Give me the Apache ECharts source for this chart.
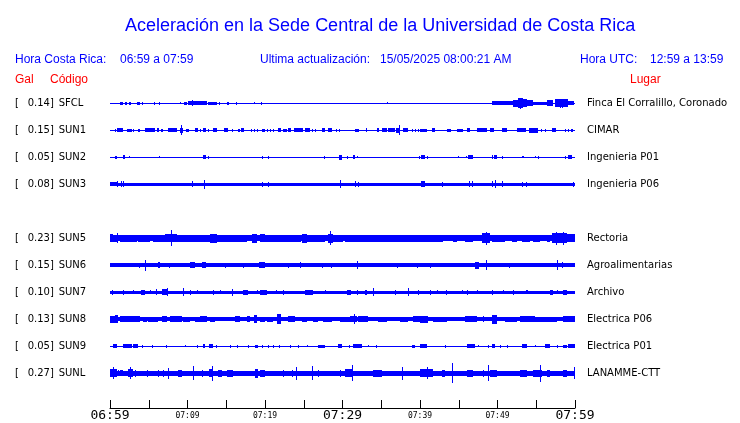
<!DOCTYPE html>
<html>
<head>
<meta charset="utf-8">
<script src="https://cdn.jsdelivr.net/npm/echarts@6/dist/echarts.min.js"></script>
<style>html,body{margin:0;padding:0;background:#fff}#c{width:740px;height:423px}</style>
</head>
<body>
<div id="c"></div>
<script>
// ---- Data ----
const stationCodes = ['SFCL','SUN1','SUN2','SUN3','SUN5','SUN6','SUN7','SUN8','SUN9','SUNL'];
const peakGal = ['0.14','0.15','0.05','0.08','0.23','0.15','0.10','0.13','0.05','0.27'];
const places = ['Finca El Corralillo, Coronado','CIMAR','Ingenieria P01','Ingenieria P06','Rectoria','Agroalimentarias','Archivo','Electrica P06','Electrica P01','LANAMME-CTT'];
const rowSlot = [0,1,2,3,5,6,7,8,9,10];          // trace slot (slot 4 empty)
const rowSpacing = 27;                            // amplitude units between traces
const baseAmp = [0.5,0.7,0.5,1.5,3,1.8,1.5,1.8,0.7,2.5]; // background noise half-amplitude
// time axis: minutes after 06:59 (hora Costa Rica)
const timeMin = 0, timeMax = 60, timeTickStep = 5;
const timeTickValues = [0,10,20,30,40,50,60];
const timeTickLabels = ['06:59','07:09','07:19','07:29','07:39','07:49','07:59'];
const majorTickLabels = ['06:59','07:29','07:59'];
// bursts: [start minute, end minute, half-amplitude]
const evSFCL = [[1.29,1.68,1.5],[1.94,2.19,1.5],[2.45,2.71,1.5],[3.48,3.87,1.5],[4.13,4.13,1.5],[5.68,5.68,1.5],[6.32,6.32,1.5],[9.03,9.03,1],[9.55,9.94,1.5],[10.06,12.52,2],[10.58,10.58,3],[12.65,13.81,1.5],[14.06,14.06,1.5],[15.1,15.35,1.5],[16.26,16.26,1.5],[18.58,18.58,1],[19.48,19.48,1.5],[35.74,35.74,1],[49.29,52.0,2],[52.0,52.6,3.5],[52.6,53.3,5],[52.9,52.9,5.5],[53.3,53.8,4],[53.8,54.58,3],[54.58,56.39,1.5],[56.39,57.16,3],[57.42,59.1,4],[58.0,58.0,4.5],[58.3,58.3,4.5],[59.1,59.87,2]];
const evSUN1 = [[0.65,0.65,1.5],[0.9,1.68,2],[2.19,2.84,1.5],[2.97,2.97,1.5],[3.61,3.87,1.5],[4.52,5.81,2],[6.06,6.32,2],[6.58,6.84,1.5],[7.48,8.65,2],[9.03,9.42,2.5],[9.16,9.16,5],[9.81,10.19,1.5],[10.97,11.35,2],[11.61,11.61,1.5],[12.0,12.39,2],[12.65,12.65,1.5],[13.29,13.81,2],[14.71,15.23,2],[15.74,15.74,1.5],[16.52,16.77,1.5],[16.9,17.29,2],[18.19,18.19,1.5],[18.58,18.58,1.5],[18.97,18.97,1.5],[19.61,20.0,1.5],[20.26,20.26,1.5],[20.65,20.65,1.5],[21.03,21.03,1.5],[21.68,22.06,2],[22.32,22.84,1.5],[22.97,23.35,2],[23.74,24.9,2],[25.16,25.81,2],[26.06,26.06,1.5],[26.45,26.45,1.5],[27.35,27.74,2],[28.13,28.65,2],[29.16,29.16,1.5],[29.55,29.55,1.5],[31.61,32.13,1.5],[33.03,33.16,2],[34.45,34.71,2],[35.1,35.74,2],[35.87,36.77,2],[36.9,37.42,2.5],[37.29,37.29,5],[37.81,38.45,2],[38.97,38.97,1.5],[39.35,39.35,1.5],[39.74,39.74,1.5],[40.0,40.9,1.5],[41.55,41.94,2],[43.48,44.0,1.5],[44.77,45.55,1.5],[46.06,46.45,2],[47.35,48.65,2],[49.03,49.55,2],[50.58,51.23,2],[52.52,53.68,2],[54.06,55.23,2.5],[55.61,55.61,1.5],[56.13,56.13,1.5],[57.03,57.55,2],[58.71,58.71,1.5],[59.1,59.1,1.5],[59.48,59.74,1.5]];
const evSUN2 = [[0.65,0.9,1.5],[1.68,1.94,2],[2.45,2.45,1.2],[6.32,6.32,1],[12.0,12.39,2],[12.65,12.65,1.5],[19.61,19.61,1.5],[20.39,20.39,1.5],[27.61,27.61,1.5],[29.55,29.94,2.5],[30.58,30.58,1.5],[31.35,31.61,2],[31.87,31.87,1],[39.87,39.87,1.5],[40.13,40.65,2],[40.9,40.9,1.5],[44.9,44.9,1],[45.94,45.94,1],[46.19,46.84,2],[49.29,49.42,2],[49.55,49.94,2],[50.58,50.58,1.5],[53.16,53.42,1.2],[54.84,54.84,1],[55.23,55.23,1.5],[58.71,58.71,1.5],[59.1,59.61,2]];
const evSUN3 = [[0,0.9,2],[0.9,0.9,3],[1.42,1.42,3],[1.68,1.68,3],[10.58,10.58,3],[12.13,12.13,4.5],[19.61,19.61,2.5],[20.39,20.39,2.5],[29.68,29.68,4],[31.61,31.61,3],[32.0,32.0,2.5],[40.13,40.65,3],[42.84,42.84,2.5],[46.32,46.32,3],[46.71,46.71,3],[49.29,49.29,3],[49.68,49.68,4],[50.58,50.58,3],[53.16,53.16,2.5],[53.68,53.68,2.5],[59.74,59.74,2.5]];
const evSUN5 = [[0,0.39,4],[0.39,1.03,3.5],[0.9,0.9,5],[1.29,3.48,3.3],[3.61,5.16,3.5],[5.55,7.1,3.3],[7.1,8.65,4],[7.87,7.87,8],[8.65,9.94,3.3],[9.94,11.61,3.5],[11.61,12.9,3.3],[12.9,13.81,4.5],[13.81,15.87,3.5],[15.87,17.68,3.5],[18.32,18.97,4.5],[19.35,20.0,4],[20.0,21.68,3.5],[21.68,22.45,3.3],[22.45,24.6,3.3],[24.77,25.4,4.5],[25.4,27.35,3.5],[27.35,27.74,3.5],[28.13,28.77,4.5],[28.39,28.39,7],[28.77,30.06,3.3],[30.32,30.97,3.5],[30.97,32.26,3.5],[32.26,33.55,3.3],[33.55,34.19,3.5],[34.19,36.13,3.5],[36.13,37.42,3.3],[37.42,38.32,3.5],[38.32,40.65,3.3],[40.65,41.68,3.3],[41.68,42.97,3.5],[44.26,44.77,3.5],[45.81,46.84,3.5],[48.0,49.03,5],[48.52,48.52,6.5],[49.29,50.97,3.3],[51.87,52.52,3.5],[53.16,54.19,3.5],[54.58,55.48,3.3],[56.39,56.77,3.5],[57.03,58.97,5],[57.6,57.6,6.5],[58.4,58.4,6.5],[58.97,60,4]];
const evSUN6 = [[3.74,3.74,2.5],[4.52,4.52,5.5],[6.19,6.45,3],[7.61,7.61,2.5],[10.32,10.97,3],[11.87,12.39,3],[14.84,14.84,2.5],[17.16,17.16,2.5],[19.23,19.74,3],[19.74,20.0,3],[22.97,22.97,2.5],[24.52,24.52,3],[27.35,27.35,2.5],[28.52,28.52,2.5],[31.87,31.87,4],[37.03,37.03,2.5],[39.61,39.61,2.5],[41.29,41.29,2.5],[42.58,42.58,2],[47.1,47.61,3.5],[48.52,48.52,5],[51.48,51.48,2.5],[57.68,57.68,5],[58.32,58.32,3]];
const evSUN7 = [[0.26,0.26,2.5],[1.68,1.68,2.5],[2.97,2.97,2],[4.0,4.52,2.5],[5.16,5.16,2],[5.94,5.94,3],[6.71,7.48,3],[7.35,7.35,4],[9.42,9.42,4],[10.32,10.32,2.5],[11.23,11.23,2],[13.29,13.29,2.5],[14.19,14.19,2],[15.74,15.74,3.5],[17.16,17.81,2.5],[18.97,18.97,2],[19.35,20.26,2.5],[21.42,21.42,2],[22.32,22.32,2.5],[25.16,26.19,2.5],[27.74,27.74,2],[30.58,31.1,2.5],[31.87,31.87,2.5],[32.9,33.16,2.5],[33.94,33.94,4],[36.77,36.77,2.5],[38.45,38.45,4],[39.74,39.74,2.5],[41.29,41.29,2.5],[42.19,42.19,2],[43.35,43.35,2.5],[45.42,45.42,2],[46.06,46.06,2.5],[47.35,47.35,2],[49.29,49.29,2.5],[50.71,50.71,2],[52.0,52.0,2.5],[53.68,53.94,2],[56.77,57.16,2.5],[57.68,57.68,2],[58.45,58.97,2.5]];
const evSUN8 = [[0,0.65,3.5],[0.65,1.03,4],[1.29,3.87,2.8],[4.26,4.77,2.5],[4.9,6.19,2.5],[6.71,7.35,3],[7.74,9.29,2.8],[9.42,10.32,2.5],[10.97,11.61,2.5],[11.61,12.52,2.8],[12.9,13.55,2.5],[16.13,16.77,3],[17.68,18.06,3],[18.58,18.97,4],[19.35,20.0,2.5],[20.26,21.03,2.5],[21.55,22.06,5],[22.97,23.87,3],[24.77,25.42,2.5],[26.19,26.84,2.5],[27.48,28.65,2.5],[29.68,30.97,2.5],[30.97,31.87,3],[31.48,31.48,5],[32.0,33.29,2.8],[34.58,35.74,2.5],[37.42,38.45,2.5],[39.1,40.65,2.8],[40.0,41.03,3.5],[41.68,43.48,2.5],[45.81,47.35,2.8],[48.13,48.13,3],[49.29,49.94,4.5],[50.97,52.52,2.5],[52.9,54.84,2.8],[54.84,57.68,2.5],[58.45,60,3]];
const evSUN9 = [[0.39,0.9,2],[1.68,2.84,2],[2.97,3.61,2],[4.13,4.13,1.5],[5.42,5.42,1.5],[7.23,7.23,1.5],[9.68,9.68,1.2],[11.23,11.23,1.5],[12.0,12.26,2],[12.77,13.29,2],[13.68,13.68,1.5],[15.48,15.48,1.5],[16.39,16.39,1.5],[17.81,17.81,1.5],[18.71,19.1,1.5],[19.61,19.74,1.5],[20.39,20.39,1.5],[21.03,21.03,1.5],[21.81,21.81,1.5],[23.23,23.23,1.5],[24.26,24.26,1.5],[25.42,25.42,1.2],[26.84,27.74,1.5],[29.42,29.94,2],[30.84,30.84,1.5],[31.35,32.52,2],[33.29,33.29,1],[34.32,34.32,1.5],[38.97,39.35,1.5],[40.0,40.9,2],[43.23,43.23,1.5],[46.06,47.1,2],[47.48,47.48,1],[48.77,48.77,1.5],[49.29,49.68,2],[50.32,50.32,1.5],[51.23,51.23,1.5],[53.16,53.81,2],[54.84,54.84,1.2],[56.13,56.77,2],[57.68,57.68,1.5],[58.45,58.97,1.5],[59.1,60,2]];
const evSUNL = [[0,0.9,4],[0.39,0.39,6],[1.03,1.03,3],[1.29,1.68,3],[2.32,2.97,4],[2.58,2.58,6],[3.23,3.23,3.5],[4.77,4.77,3.5],[6.19,6.19,3.5],[6.84,6.84,3.5],[7.48,7.48,5.5],[8.77,9.29,3.3],[10.71,10.71,7],[11.87,11.87,3.5],[12.77,13.29,4],[13.16,13.16,7.5],[13.94,14.45,3.3],[15.1,15.87,3.3],[18.71,19.1,4.5],[19.35,20.0,3.3],[22.32,22.32,3.5],[23.48,23.48,3.5],[24.0,24.0,6.5],[26.06,26.06,7],[26.84,26.84,3.5],[29.68,29.68,3.5],[30.32,31.35,4],[31.23,31.23,8],[33.94,35.1,3.3],[37.68,37.68,6.5],[40.0,41.68,4],[40.9,40.9,6],[42.84,43.23,3.5],[44.13,44.13,10],[46.06,46.84,3.3],[48.13,48.13,3.5],[48.77,48.77,8],[49.03,49.94,3.5],[52.9,53.81,3.3],[54.58,55.74,3.5],[55.48,55.48,8.5],[56.39,56.77,3.3],[58.45,58.97,3.3],[59.87,59.87,6]];
const eventLists = [evSFCL,evSUN1,evSUN2,evSUN3,evSUN5,evSUN6,evSUN7,evSUN8,evSUN9,evSUNL];

// ---- Build series data ----
const rowValues = rowSlot.map(s => s * rowSpacing);
const traceData = [];
stationCodes.forEach((code, i) => {
  const row = rowValues[i];
  traceData.push([timeMin, timeMax, row, baseAmp[i]]);
  eventLists[i].forEach(e => traceData.push([e[0], e[1], row, e[2]]));
});

const BLUE = '#0000ff';
const RED = '#ff0000';
const SANS = '"Liberation Sans", Arial, sans-serif';

const chart = echarts.init(document.getElementById('c'), null, {renderer: 'canvas'});
chart.setOption({
  animation: false,
  backgroundColor: '#ffffff',
  title: {
    text: 'Aceleración en la Sede Central de la Universidad de Costa Rica',
    left: 120, top: 12,
    textStyle: {color: BLUE, fontSize: 18, fontWeight: 'normal', fontFamily: SANS}
  },
  graphic: [
    {type: 'text', x: 15, y: 60, style: {text: 'Hora Costa Rica:', fill: BLUE, font: '12px ' + SANS, verticalAlign: 'middle'}},
    {type: 'text', x: 120, y: 60, style: {text: timeTickLabels[0] + ' a ' + timeTickLabels[6], fill: BLUE, font: '12px ' + SANS, verticalAlign: 'middle'}},
    {type: 'text', x: 260, y: 60, style: {text: 'Ultima actualización:', fill: BLUE, font: '12px ' + SANS, verticalAlign: 'middle'}},
    {type: 'text', x: 380, y: 60, style: {text: '15/05/2025 08:00:21 AM', fill: BLUE, font: '12px ' + SANS, verticalAlign: 'middle'}},
    {type: 'text', x: 580, y: 60, style: {text: 'Hora UTC:', fill: BLUE, font: '12px ' + SANS, verticalAlign: 'middle'}},
    {type: 'text', x: 650, y: 60, style: {text: '12:59 a 13:59', fill: BLUE, font: '12px ' + SANS, verticalAlign: 'middle'}},
    {type: 'text', x: 15, y: 80, style: {text: 'Gal', fill: RED, font: '12px ' + SANS, verticalAlign: 'middle'}},
    {type: 'text', x: 50, y: 80, style: {text: 'Código', fill: RED, font: '12px ' + SANS, verticalAlign: 'middle'}},
    {type: 'text', x: 630, y: 80, style: {text: 'Lugar', fill: RED, font: '12px ' + SANS, verticalAlign: 'middle'}}
  ],
  grid: {left: 110, right: 165, top: 89, bottom: 15, containLabel: false},
  xAxis: {
    type: 'value', min: timeMin, max: timeMax, interval: timeTickStep, position: 'bottom',
    axisLine: {show: true, onZero: false, lineStyle: {color: '#000', width: 1}},
    axisTick: {show: true, inside: true, length: 8, lineStyle: {color: '#000'}},
    splitLine: {show: false},
    axisLabel: {
      margin: 1, showMinLabel: true, showMaxLabel: true, color: '#000',
      formatter: v => {
        const k = timeTickValues.indexOf(v);
        if (k < 0) return '';
        const t = timeTickLabels[k];
        return majorTickLabels.includes(t) ? '{big|' + t + '}' : '{small|' + t + '}';
      },
      rich: {
        big: {fontSize: 13, fontFamily: '"DejaVu Sans Mono", monospace', color: '#000', lineHeight: 14},
        small: {fontSize: 8, fontFamily: '"DejaVu Sans Mono", monospace', color: '#000', lineHeight: 14}
      }
    }
  },
  yAxis: [
    {
      type: 'value', min: -14, max: 305, inverse: true, position: 'left',
      axisLine: {show: false}, axisTick: {show: false}, splitLine: {show: false},
      axisLabel: {
        customValues: rowValues, margin: 95, align: 'left', verticalAlign: 'middle',
        formatter: v => {
          const i = rowValues.indexOf(v);
          if (i < 0) return '';
          return '{a|[}{v|' + peakGal[i] + ']}{c|' + stationCodes[i] + '}';
        },
        rich: {
          a: {width: 12.7, fontSize: 10, fontFamily: '"DejaVu Sans", sans-serif', color: '#000'},
          v: {width: 31, fontSize: 10, fontFamily: '"DejaVu Sans", sans-serif', color: '#000'},
          c: {fontSize: 10, fontFamily: '"DejaVu Sans", sans-serif', color: '#000'}
        }
      }
    },
    {
      type: 'value', min: -14, max: 305, inverse: true, position: 'right',
      axisLine: {show: false}, axisTick: {show: false}, splitLine: {show: false},
      axisLabel: {
        customValues: rowValues, margin: 12, align: 'left', verticalAlign: 'middle',
        fontSize: 10, fontFamily: '"DejaVu Sans", sans-serif', color: '#000',
        formatter: v => {
          const i = rowValues.indexOf(v);
          return i < 0 ? '' : places[i];
        }
      }
    }
  ],
  series: [{
    type: 'custom',
    xAxisIndex: 0, yAxisIndex: 0,
    encode: {x: [0, 1], y: [2]},
    data: traceData,
    renderItem: (params, api) => {
      const t0 = api.value(0), t1 = api.value(1), row = api.value(2), amp = api.value(3);
      const p0 = api.coord([t0, row - amp]);
      const p1 = api.coord([t1, row + amp]);
      const x = Math.round(Math.min(p0[0], p1[0]));
      const w = Math.max(1, Math.round(Math.abs(p1[0] - p0[0])));
      const yTop = Math.min(p0[1], p1[1]), yBot = Math.max(p0[1], p1[1]);
      const yc = (yTop + yBot) / 2;
      const h = Math.max(1, Math.round(yBot - yTop));
      const y = Math.round(yc - h / 2);
      return {type: 'rect', shape: {x: x, y: y, width: w, height: h}, style: {fill: BLUE}};
    }
  }]
});
</script>
</body>
</html>
